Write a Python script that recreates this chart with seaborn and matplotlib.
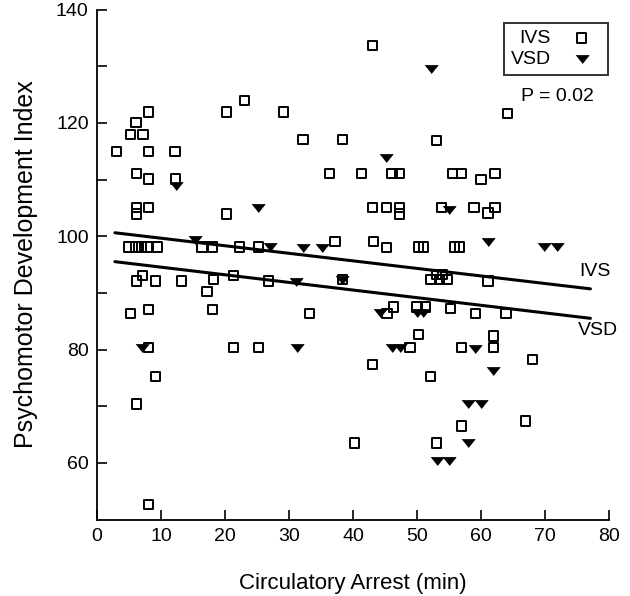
import numpy as np
import pandas as pd
import seaborn as sns
import matplotlib.pyplot as plt

# IVS group (open squares)
ivs_x = [23.1, 20.2, 8.1, 6.1, 5.2, 7.2, 3.1, 8.1, 12.2, 6.2, 8.1, 12.3, 6.2, 6.2, 8.1, 20.2,
         43.1, 29.2, 32.2, 38.3, 53.0, 36.3, 41.3, 46.1, 47.3, 43.1, 45.2, 47.3, 47.3, 53.8,
         64.1, 55.6, 56.9, 60.0, 62.2, 58.9, 61.1, 62.2,
         5.0, 6.0, 6.5, 7.0, 7.8, 9.4, 16.4, 18.1, 22.3, 25.2, 37.2, 43.2, 45.2, 50.2, 51.0, 55.9, 56.7,
         6.2, 7.1, 9.2, 13.2, 18.2, 21.3, 26.8, 17.2, 38.3, 52.2, 53.0, 53.5, 54.0, 54.7, 61.1,
         5.2, 8.1, 18.1, 33.2, 45.3, 46.3, 50.0, 51.3, 55.2, 59.1, 63.9,
         8.1, 21.3, 25.2, 48.9, 50.2, 57.0, 61.9, 61.9, 68.0,
         9.2, 6.2, 8.1, 43.1, 52.1, 40.2, 53.0, 67.0, 57.0]
ivs_y = [123.9, 121.9, 121.9, 120.0, 118.0, 118.0, 114.9, 114.9, 114.9, 111.0, 110.1, 110.1, 105.1, 103.9, 105.0, 103.9,
         133.7, 121.9, 117.0, 117.0, 116.9, 111.0, 111.0, 111.0, 111.0, 105.1, 105.1, 105.0, 103.9, 105.1,
         121.7, 111.0, 111.0, 110.0, 111.0, 105.1, 104.1, 105.1,
         98.1, 98.1, 98.1, 98.1, 98.1, 98.1, 98.1, 98.1, 98.1, 98.1, 99.0, 99.0, 98.0, 98.1, 98.1, 98.1, 98.1,
         92.1, 93.1, 92.1, 92.1, 92.3, 93.1, 92.1, 90.3, 92.3, 92.3, 93.3, 92.3, 93.3, 92.3, 92.1,
         86.3, 87.1, 87.1, 86.4, 86.4, 87.5, 87.5, 87.5, 87.3, 86.4, 86.4,
         80.3, 80.3, 80.3, 80.3, 82.6, 80.3, 82.4, 80.3, 78.3,
         75.3, 70.4, 52.6, 77.4, 75.3, 63.5, 63.5, 67.4, 66.5]

# VSD group (filled triangles)
vsd_x = [52.2, 45.2, 12.3, 25.2, 55.0, 15.3, 27.0, 32.2, 35.2, 61.1, 69.8, 71.9,
         31.1, 38.3, 44.2, 50.0, 51.0, 7.1, 31.2, 46.1, 47.3, 59.1, 61.9,
         58.0, 60.0, 58.0, 53.1, 55.0]
vsd_y = [129.5, 113.8, 108.9, 104.9, 104.7, 99.3, 98.1, 97.9, 97.9, 99.0, 98.1, 98.1,
         92.0, 92.3, 86.4, 86.4, 86.4, 80.2, 80.2, 80.3, 80.3, 80.1, 76.2,
         70.4, 70.4, 63.5, 60.3, 60.3]

# regression lines (end points)
fit_x = [2.8, 77.1]
ivs_fit = [100.6, 90.7]
vsd_fit = [95.5, 85.5]

sns.set_style('ticks')
plt.rcParams['font.family'] = ['Liberation Sans', 'DejaVu Sans']
for k in ['text.color', 'axes.labelcolor', 'xtick.color', 'ytick.color', 'axes.edgecolor']:
    plt.rcParams[k] = 'black'

ivs = pd.DataFrame({'x': ivs_x, 'y': ivs_y})
vsd = pd.DataFrame({'x': vsd_x, 'y': vsd_y})
fits = pd.DataFrame({'x': fit_x, 'IVS': ivs_fit, 'VSD': vsd_fit})

fig = plt.figure(figsize=(6.3, 5.96), dpi=100)
ax = fig.add_axes([97 / 630, 1 - 519.5 / 596, 512 / 630, 510 / 596])

sns.scatterplot(data=ivs, x='x', y='y', marker='s', s=44, facecolor='none',
                edgecolor='black', linewidth=1.4, ax=ax, zorder=3)
tri_marker = [(-1, 0.62), (1, 0.62), (0, -0.62)]
sns.scatterplot(data=vsd, x='x', y='y', marker=tri_marker, s=90, color='black',
                edgecolor='black', linewidth=0.5, ax=ax, zorder=4)

sns.lineplot(data=fits, x='x', y='IVS', color='black', linewidth=2.2, ax=ax)
sns.lineplot(data=fits, x='x', y='VSD', color='black', linewidth=2.2, ax=ax)

ax.text(75.3, 93.7, 'IVS', fontsize=14, ha='left', va='center')
ax.text(75.2, 83.4, 'VSD', fontsize=14, ha='left', va='center')
ax.text(66.3, 124.6, 'P = 0.02', fontsize=14, ha='left', va='center')

ax.set_xlim(0, 80)
ax.set_ylim(50, 140)
ax.set_xticks(np.arange(0, 81, 10))
ax.set_yticks(np.arange(60, 141, 20))
ax.set_yticks(np.arange(70, 140, 20), minor=True)
ax.tick_params(which='both', direction='in', length=7, width=1.2, labelsize=14)
ax.tick_params(axis='x', pad=6)
ax.tick_params(axis='y', pad=6)
for s in ['left', 'bottom']:
    ax.spines[s].set_linewidth(1.3)
sns.despine(ax=ax)

ax.set_xlabel('Circulatory Arrest (min)', fontsize=16, labelpad=20)
ax.set_ylabel('Psychomotor Development Index', fontsize=18, labelpad=13)

coll = ax.collections
leg = ax.legend([coll[0], coll[1]], ['IVS', 'VSD'], loc='upper right',
                bbox_to_anchor=(0.998, 0.974), borderaxespad=0, markerfirst=False,
                scatterpoints=1, frameon=True, fancybox=False, fontsize=14,
                handletextpad=0.6, borderpad=0.35, labelspacing=0.15)
leg.get_frame().set_edgecolor('black')
leg.get_frame().set_linewidth(1.4)

fig.savefig('out.png', dpi=100)
